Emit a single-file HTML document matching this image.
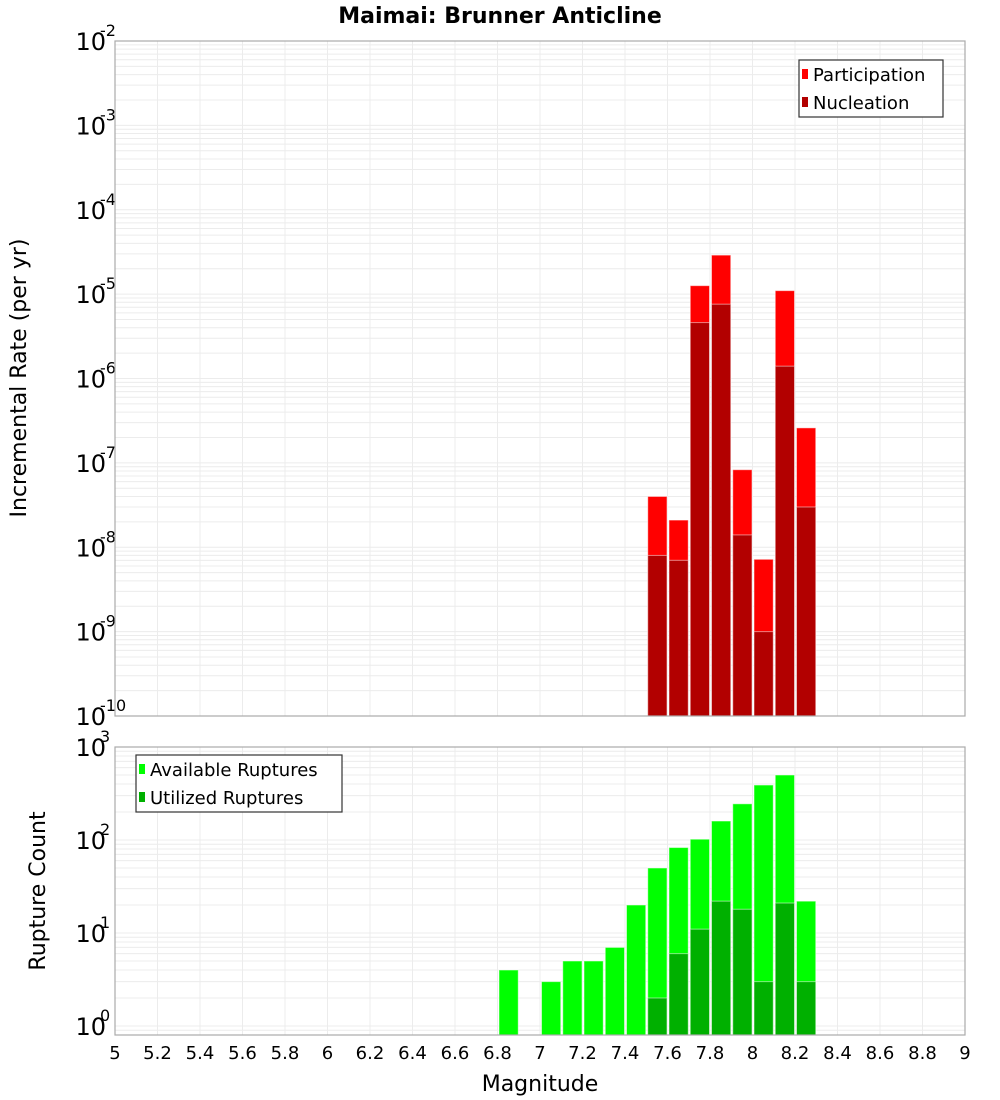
<!DOCTYPE html>
<html><head><meta charset="utf-8"><style>
html,body{margin:0;padding:0;background:#fff;}
svg{display:block;font-family:"DejaVu Sans","Liberation Sans",sans-serif;}
</style></head><body>
<svg id="chart" width="1000" height="1100" viewBox="0 0 1000 1100" xmlns="http://www.w3.org/2000/svg">
<text x="500" y="23" text-anchor="middle" font-size="22" font-weight="bold">Maimai: Brunner Anticline</text>
<g id="top"></g>
<g id="bot"></g>
<text x="540" y="1091" text-anchor="middle" font-size="22">Magnitude</text>
<text transform="translate(26,378) rotate(-90)" text-anchor="middle" font-size="22">Incremental Rate (per yr)</text>
<text transform="translate(45,891) rotate(-90)" text-anchor="middle" font-size="22">Rupture Count</text>
</svg>
<script>
const binCenters = [7.55, 7.65, 7.75, 7.85, 7.95, 8.05, 8.15, 8.25];
const participation = [4e-8, 2.1e-8, 1.26e-5, 2.9e-5, 8.3e-8, 7.2e-9, 1.1e-5, 2.6e-7];
const nucleation = [8e-9, 7e-9, 4.6e-6, 7.6e-6, 1.4e-8, 1e-9, 1.4e-6, 3e-8];
const countCenters = [6.85, 7.05, 7.15, 7.25, 7.35, 7.45, 7.55, 7.65, 7.75, 7.85, 7.95, 8.05, 8.15, 8.25];
const available = [4, 3, 5, 5, 7, 20, 50, 83, 102, 160, 245, 390, 500, 22];
const utilized = [0, 0, 0, 0, 0, 0, 2, 6, 11, 22, 18, 3, 21, 3];
const xTicks = ["5","5.2","5.4","5.6","5.8","6","6.2","6.4","6.6","6.8","7","7.2","7.4","7.6","7.8","8","8.2","8.4","8.6","8.8","9"];
const topExps = [-2,-3,-4,-5,-6,-7,-8,-9,-10];
const botExps = [3,2,1,0];

const NS="http://www.w3.org/2000/svg";
const X0=115,X1=965;
function xs(m){return X0+(m-5)/4*(X1-X0);}
function mk(tag,attrs,parent){const e=document.createElementNS(NS,tag);for(const k in attrs)e.setAttribute(k,attrs[k]);parent.appendChild(e);return e;}

function panel(g,Y0,Y1,lmin,lmax,exps,prefix){
  const ys=v=>Y1-(Math.log10(v)-lmin)/(lmax-lmin)*(Y1-Y0);
  // grid
  for(let d=Math.floor(lmin);d<=Math.ceil(lmax);d++){
    for(let k=1;k<10;k++){
      const v=k*Math.pow(10,d);const l=Math.log10(v);
      if(l<lmin-1e-9||l>lmax+1e-9)continue;
      const y=ys(v);
      const ln=mk('line',{x1:X0,x2:X1,y1:y,y2:y,stroke:'#ececec','stroke-width':1},g);
      
      
    }
  }
  xTicks.forEach(t=>{
    const x=xs(parseFloat(t));
    const ln=mk('line',{x1:x,x2:x,y1:Y0,y2:Y1,stroke:'#ececec','stroke-width':1},g);
    
    
  });
  exps.forEach(e=>{
    const y=ys(Math.pow(10,e));
    const t=mk('text',{x:106,y:y+9,'text-anchor':'end','font-size':24},g);
    
    
    t.textContent='10';
    const s=mk('text',{x:100,y:y-5,'text-anchor':'start','font-size':16},g);
    
    
    s.textContent=String(e);
  });
  return ys;
}
function bar(g,m,ys,v,Y1,fill,name){
  if(!(v>0))return;
  const xa=xs(m-0.05)+1.5,xb=xs(m+0.05)-0.5;
  const y=Math.max(ys(v),0);
  const r=mk('rect',{x:xa,y:y,width:xb-xa,height:Y1-y,fill:fill,stroke:'#ffffff','stroke-opacity':0.5,'stroke-width':1},g);
  
  
}
function legend(g,x,y,w,items){
  const r=mk('rect',{x:x,y:y,width:w,height:57,fill:'#fff',stroke:'#333','stroke-width':1.2},g);
  
  
  items.forEach((it,i)=>{
    const cy=y+14+i*28;
    const sw=mk('rect',{x:x+3,y:cy-5,width:6,height:10,fill:it[1]},g);
    
    
    const t=mk('text',{x:x+14,y:cy+7,'font-size':18},g);
    
    
    t.textContent=it[0];
  });
}
// top panel
const gt=document.getElementById('top');
const TY0=41,TY1=716;
const yt=panel(gt,TY0,TY1,-10,-2,topExps,'top');
binCenters.forEach((m,i)=>{bar(gt,m,yt,participation[i],TY1,'#ff0000','participation-bar');});
binCenters.forEach((m,i)=>{bar(gt,m,yt,nucleation[i],TY1,'#b20000','nucleation-bar');});
const bt=mk('rect',{x:X0,y:TY0,width:X1-X0,height:TY1-TY0,fill:'none',stroke:'#aaa','stroke-width':1.2},gt);


legend(gt,799,60,144,[['Participation','#ff0000'],['Nucleation','#b20000']]);

// bottom panel
const gb=document.getElementById('bot');
const BY0=747,BY1=1035;
const lminB=3-(BY1-BY0)/93;
const yb=panel(gb,BY0,BY1,lminB,3,botExps,'bottom');
countCenters.forEach((m,i)=>{bar(gb,m,yb,available[i],BY1,'#00ff00','available-bar');});
countCenters.forEach((m,i)=>{bar(gb,m,yb,utilized[i],BY1,'#00b000','utilized-bar');});
const bb=mk('rect',{x:X0,y:BY0,width:X1-X0,height:BY1-BY0,fill:'none',stroke:'#aaa','stroke-width':1.2},gb);


legend(gb,136,755,206,[['Available Ruptures','#00ff00'],['Utilized Ruptures','#00b000']]);
xTicks.forEach(t=>{
  const e=mk('text',{x:xs(parseFloat(t)),y:1059,'text-anchor':'middle','font-size':18},gb);
  
  
  e.textContent=t;
});
</script>
</body></html>
